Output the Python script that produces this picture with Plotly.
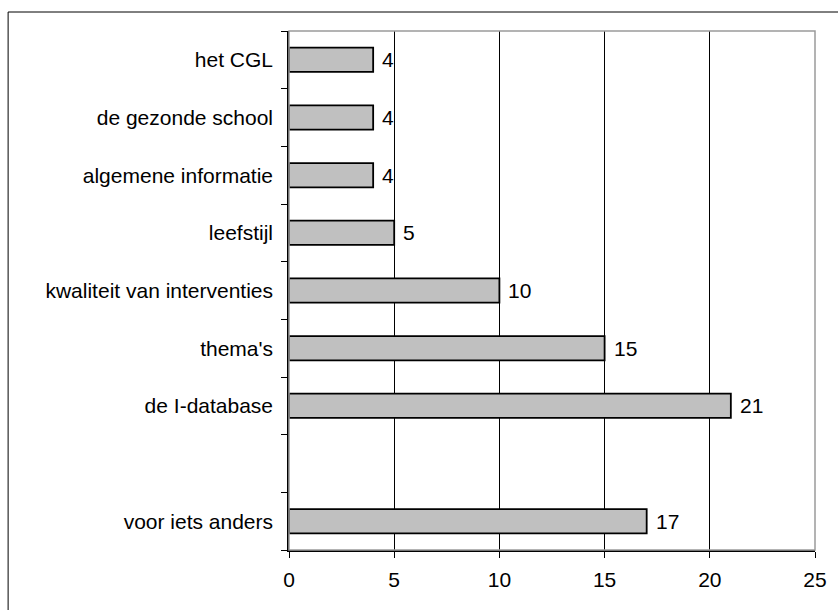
import plotly.graph_objects as go

# Categories listed top to bottom; the empty entry leaves a gap row
categories = [
    "het CGL",
    "de gezonde school",
    "algemene informatie",
    "leefstijl",
    "kwaliteit van interventies",
    "thema's",
    "de I-database",
    "",
    "voor iets anders",
]
values = [4, 4, 4, 5, 10, 15, 21, None, 17]
x_ticks = [0, 5, 10, 15, 20, 25]

n = len(categories)
# row positions: top row gets the highest value
positions = [n - 1 - i for i in range(n)]

bar_pos = [p for p, v in zip(positions, values) if v is not None]
bar_val = [v for v in values if v is not None]

FONT = "Liberation Sans, Arial, sans-serif"
FSIZE = 21

fig = go.Figure()
fig.add_trace(go.Bar(
    x=bar_val,
    y=bar_pos,
    orientation="h",
    width=0.42,
    marker=dict(color="#c0c0c0", line=dict(color="black", width=1.8)),
    hoverinfo="skip",
))

for p, v in zip(bar_pos, bar_val):
    fig.add_annotation(
        x=v, y=p, text=str(v), showarrow=False,
        xanchor="left", yanchor="middle", xshift=7,
        font=dict(family=FONT, size=FSIZE, color="black"),
    )

# outer chart frame
fig.add_shape(
    type="rect", xref="paper", yref="paper",
    x0=-0.534, x1=2.0, y0=-0.5, y1=1.0366,
    line=dict(color="black", width=1), fillcolor="rgba(0,0,0,0)",
    layer="below",
)
# plot area border (grey top and right)
fig.add_shape(
    type="rect", xref="paper", yref="paper",
    x0=0, x1=1, y0=0, y1=1,
    line=dict(color="#9a9a9a", width=1.5), fillcolor="rgba(0,0,0,0)",
    layer="above",
)

fig.update_layout(
    width=838, height=610,
    margin=dict(l=289, r=23, t=31, b=60),
    paper_bgcolor="white", plot_bgcolor="white",
    showlegend=False,
    font=dict(family=FONT, size=FSIZE, color="black"),
    xaxis=dict(
        range=[0, 25], tickvals=x_ticks, ticktext=[str(t) for t in x_ticks],
        showgrid=True, gridcolor="black", gridwidth=1,
        showline=True, linecolor="black", linewidth=1.5,
        ticks="outside", ticklen=6, tickcolor="black", tickwidth=1,
        zeroline=False, ticklabelstandoff=4,
        tickfont=dict(family=FONT, size=FSIZE, color="black"),
    ),
    yaxis=dict(
        range=[-0.5, n - 0.5],
        tickvals=positions, ticktext=categories,
        showgrid=False, zeroline=False,
        showline=True, linecolor="black", linewidth=1.5,
        ticks="", ticklabelstandoff=10,
        minor=dict(
            tickvals=[p + 0.5 for p in range(-1, n)],
            ticks="outside", ticklen=6, tickcolor="black", tickwidth=1,
            showgrid=False,
        ),
        tickfont=dict(family=FONT, size=FSIZE, color="black"),
    ),
)

fig.write_html("out.html")
